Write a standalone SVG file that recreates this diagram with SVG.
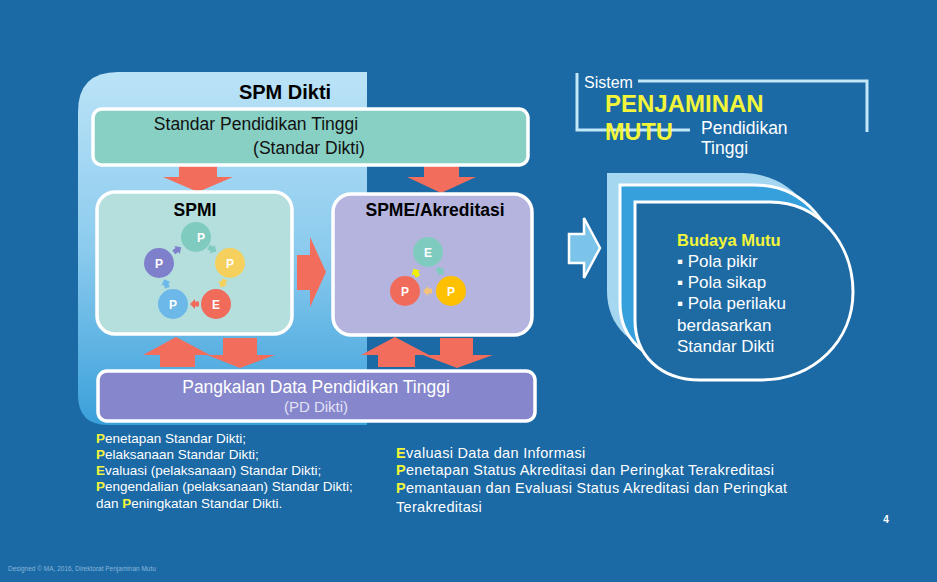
<svg xmlns="http://www.w3.org/2000/svg" width="937" height="582" viewBox="0 0 937 582">
<defs>
<style>
text{font-family:"Liberation Sans",Arial,sans-serif}
.salmon{fill:#f26d5b}
.box{stroke:#ffffff;stroke-width:3.5}
.hd{font-weight:bold;fill:#000;font-size:17.5px}
.cl{font-size:12px;fill:#fff;text-anchor:middle;font-weight:bold}
.lst{font-size:13.5px;fill:#fff}
.lst2{font-size:14.5px;fill:#fff;letter-spacing:0.3px}
.yl{fill:#f2f53a;font-weight:bold}
.bd{font-size:17px;fill:#fff}
</style>
<linearGradient id="pg" x1="0" y1="0" x2="0" y2="1">
<stop offset="0" stop-color="#bbe3f7"/>
<stop offset="0.5" stop-color="#8ccbee"/>
<stop offset="1" stop-color="#3aa0da"/>
</linearGradient>
<path id="sa" d="M-4,-2.5 L0,-2.5 L0,-5 L5,0 L0,5 L0,2.5 L-4,2.5 Z"/>
</defs>
<rect width="937" height="582" fill="#1b69a5"/>

<g id="panel">
<path d="M118,72 H367 V425 H108 Q78,425 78,395 V112 Q78,72 118,72 Z" fill="url(#pg)"/>
</g>

<g id="connectors">
<path class="salmon" d="M179,160 H217 V177 H233 L198,192 L163,177 H179 Z"/>
<path class="salmon" d="M424,160 H459 V177 H476 L441,193 L407,177 H424 Z"/>
<path class="salmon" d="M297,255 H310 V237 L326,272 L310,307 V290 H297 Z"/>
<path d="M569,234 H584 V218 L600,248 L584,278 V263 H569 Z" fill="#7cc3ea" stroke="#ffffff" stroke-width="2.5"/>
<path class="salmon" d="M160,367 V355 H143 L176,337 L210,355 H195 V367 Z"/>
<path class="salmon" d="M223,338 H257 V355 H275 L240,368 L207,355 H223 Z"/>
<path class="salmon" d="M378,367 V355 H361 L395,337 L429,355 H415 V367 Z"/>
<path class="salmon" d="M440,338 H473 V355 H493 L457,368 L423,355 H440 Z"/>
</g>

<g id="standar">
<rect class="box" x="93" y="109" width="435" height="56" rx="9" fill="#88cfc4"/>
<text x="256" y="130" font-size="17.5" text-anchor="middle" fill="#111">Standar Pendidikan Tinggi</text>
<text x="309" y="154" font-size="17.5" text-anchor="middle" fill="#111">(Standar Dikti)</text>
</g>

<g id="spm-title">
<text x="285" y="99" font-size="20" font-weight="bold" text-anchor="middle" fill="#000">SPM Dikti</text>
</g>

<g id="spmi">
<rect class="box" x="97" y="192" width="195" height="142" rx="18" fill="#b4dfdd"/>
<text class="hd" x="195" y="216" text-anchor="middle">SPMI</text>
<circle cx="196" cy="237" r="15" fill="#7fcbbf"/>
<circle cx="159" cy="263" r="15" fill="#7f80cc"/>
<circle cx="230" cy="263" r="15" fill="#f6d05c"/>
<circle cx="173" cy="304" r="15" fill="#6cb8e8"/>
<circle cx="216" cy="304" r="15" fill="#f06b5a"/>
<text class="cl" x="201" y="242">P</text>
<text class="cl" x="159" y="268">P</text>
<text class="cl" x="230" y="268">P</text>
<text class="cl" x="173" y="309">P</text>
<text class="cl" x="216" y="309">E</text>
<use href="#sa" transform="translate(177,250) rotate(-35)" fill="#7f80cc"/>
<use href="#sa" transform="translate(212,249) rotate(30)" fill="#7fcbbf"/>
<use href="#sa" transform="translate(223,283) rotate(120)" fill="#f6d05c"/>
<use href="#sa" transform="translate(195,304) rotate(180)" fill="#f06b5a"/>
<use href="#sa" transform="translate(166,284) rotate(-110)" fill="#6cb8e8"/>
</g>

<g id="spme">
<rect class="box" x="333" y="194" width="199" height="141" rx="18" fill="#b4b4de"/>
<text class="hd" x="435" y="216" text-anchor="middle">SPME/Akreditasi</text>
<circle cx="428" cy="252" r="15" fill="#7fcbbf"/>
<circle cx="405" cy="291" r="15" fill="#f06b5a"/>
<circle cx="451" cy="291" r="15" fill="#ffc000"/>
<text class="cl" x="428" y="257">E</text>
<text class="cl" x="405" y="296">P</text>
<text class="cl" x="451" y="296">P</text>
<use href="#sa" transform="translate(416,273) rotate(-120)" fill="#f2f000"/>
<use href="#sa" transform="translate(440,271) rotate(40)" fill="#7fcbbf"/>
<use href="#sa" transform="translate(428,291) rotate(180)" fill="#f5c27a"/>
</g>

<g id="pdd">
<rect class="box" x="98" y="371" width="437" height="50" rx="9" fill="#8586cc"/>
<text x="316" y="393" font-size="17.5" text-anchor="middle" fill="#fff">Pangkalan Data Pendidikan Tinggi</text>
<text x="316" y="412" font-size="15" text-anchor="middle" fill="#e2e2f4">(PD Dikti)</text>
</g>

<g id="sistem">
<path d="M638,81 H867 V132" fill="none" stroke="#c2e7f8" stroke-width="3"/>
<path d="M577,73 V130 H690" fill="none" stroke="#c2e7f8" stroke-width="3"/>
<text x="584" y="88" font-size="16" fill="#fff">Sistem</text>
<text x="605" y="112" font-size="24" font-weight="bold" fill="#f2f53a">PENJAMINAN</text>
<text x="605" y="140" font-size="23.5" font-weight="bold" fill="#f2f53a">MUTU</text>
<text x="701" y="134" font-size="17.5" fill="#fff">Pendidikan</text>
<text x="701" y="154" font-size="17.5" fill="#fff">Tinggi</text>
</g>

<g id="budaya">
<path d="M607,173 H742 C792,173 825,216 825,263 C825,311 787,351 732,351 H672 C632,351 607,326 607,291 Z" fill="#a6d7f1"/>
<path d="M620,185 H755 C805,185 838,228 838,275 C838,323 800,363 745,363 H685 C645,363 620,338 620,303 Z" fill="#35a0dc" stroke="#fff" stroke-width="3"/>
<path d="M635,202 H770 C820,202 853,245 853,292 C853,340 815,380 760,380 H700 C660,380 635,355 635,320 Z" fill="#1e6ba4" stroke="#fff" stroke-width="3"/>
<text x="677" y="246" font-size="16.5" font-weight="bold" fill="#f2f53a">Budaya Mutu</text>
<text class="bd" x="677" y="267">▪ Pola pikir</text>
<text class="bd" x="677" y="288">▪ Pola sikap</text>
<text class="bd" x="677" y="309">▪ Pola perilaku</text>
<text class="bd" x="677" y="331">berdasarkan</text>
<text class="bd" x="677" y="352">Standar Dikti</text>
</g>

<g id="list-spmi">
<text class="lst" x="96" y="443"><tspan class="yl">P</tspan>enetapan Standar Dikti;</text>
<text class="lst" x="96" y="459"><tspan class="yl">P</tspan>elaksanaan Standar Dikti;</text>
<text class="lst" x="96" y="475"><tspan class="yl">E</tspan>valuasi (pelaksanaan) Standar Dikti;</text>
<text class="lst" x="96" y="491"><tspan class="yl">P</tspan>engendalian (pelaksanaan) Standar Dikti;</text>
<text class="lst" x="96" y="508">dan <tspan class="yl">P</tspan>eningkatan Standar Dikti.</text>
</g>

<g id="list-spme">
<text class="lst2" x="396" y="458"><tspan class="yl">E</tspan>valuasi Data dan Informasi</text>
<text class="lst2" x="396" y="475"><tspan class="yl">P</tspan>enetapan Status Akreditasi dan Peringkat Terakreditasi</text>
<text class="lst2" x="396" y="493"><tspan class="yl">P</tspan>emantauan dan Evaluasi Status Akreditasi dan Peringkat</text>
<text class="lst2" x="396" y="512">Terakreditasi</text>
</g>

<text x="8" y="571" font-size="6.5" fill="#8ab6da">Designed © MA, 2016, Direktorat Penjaminan Mutu</text>
<text x="886" y="523" font-size="10" font-weight="bold" text-anchor="middle" fill="#fff">4</text>
</svg>
